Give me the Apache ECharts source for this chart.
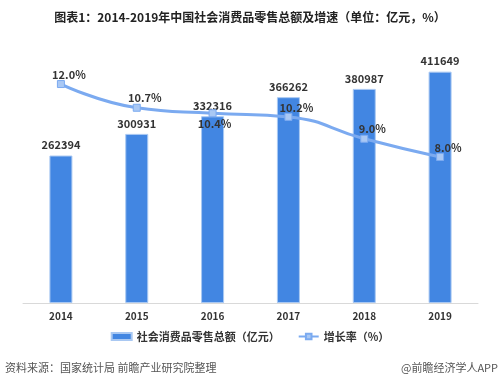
<!DOCTYPE html>
<html><head><meta charset="utf-8">
<script src="https://cdn.jsdelivr.net/npm/echarts@6/dist/echarts.min.js"></script>
<style>html,body{margin:0;padding:0;background:#fff}#c{width:500px;height:384px}</style>
</head><body><div id="c"></div>
<script>
const years = ['2014','2015','2016','2017','2018','2019'];
const retailSales = [262394, 300931, 332316, 366262, 380987, 411649];
const growthRate = [12.0, 10.7, 10.4, 10.2, 9.0, 8.0];
const barName = '社会消费品零售总额（亿元）';
const lineName = '增长率（%）';
const titleText = '图表1：2014-2019年中国社会消费品零售总额及增速（单位：亿元，%）';
const sourceText = '资料来源：国家统计局 前瞻产业研究院整理';
const brandText = '@前瞻经济学人APP';

const FONT = '"Noto Sans CJK SC", "Noto Sans", sans-serif';
const chart = echarts.init(document.getElementById('c'), null, {renderer:'canvas'});
chart.setOption({
  animation:false,
  backgroundColor:'#fff',
  textStyle:{fontFamily:FONT},
  title:{text:titleText, left:'center', top:6,
    textStyle:{fontSize:12, fontWeight:'bold', color:'#222', fontFamily:FONT}},
  grid:{left:23, right:22, top:22, bottom:81},
  legend:{bottom:37, left:'center', itemWidth:20, itemHeight:7, itemGap:18,
    textStyle:{fontSize:11, fontWeight:'bold', color:'#333', fontFamily:FONT},
    data:[{name:barName, icon:'rect'}, {name:lineName}]},
  xAxis:{type:'category', data:years,
    axisLine:{lineStyle:{color:'#d9d9d9'}}, axisTick:{show:false},
    axisLabel:{fontSize:10, fontWeight:'bold', color:'#333', margin:8}},
  yAxis:[
    {type:'value', min:0, max:500000, show:false, splitLine:{show:false}},
    {type:'value', min:0, max:15.4, show:false, splitLine:{show:false}}
  ],
  series:[
    {name:barName, type:'bar', data:retailSales, barWidth:23, yAxisIndex:0,
      itemStyle:{color:'#4286E2', borderColor:'#a9c8f2', borderWidth:1},
      label:{show:true, position:'top', distance:5, fontSize:11, fontWeight:'bold', color:'#333'}},
    {name:lineName, type:'line', data:growthRate.map((v,i)=>({value:v,
        label: i===2 ? {position:'bottom', offset:[2,-2]} : {position:'top', offset:[8,3]}})),
      yAxisIndex:1, smooth:true, symbol:'rect', symbolSize:7,
      lineStyle:{color:'#7BAAF0', width:3},
      itemStyle:{color:'#A9C8F4', borderColor:'#7BAAF0', borderWidth:1},
      label:{show:true, fontSize:11, fontWeight:'bold', color:'#333', distance:3,
        formatter:p=>p.value.toFixed(1)+'%'}}
  ],
  graphic:[
    {type:'text', left:5, top:362, style:{text:sourceText, fontSize:11, fill:'#555', fontFamily:FONT}},
    {type:'text', right:2, top:362, style:{text:brandText, fontSize:11, fill:'#555', fontFamily:FONT}}
  ]
});
</script></body></html>
